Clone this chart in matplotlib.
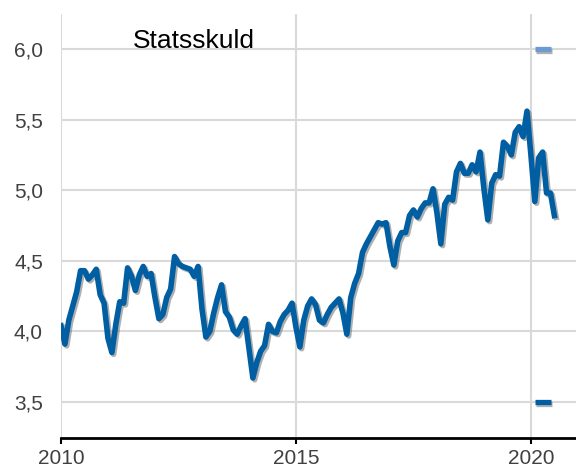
import numpy as np
import matplotlib
matplotlib.use("Agg")
import matplotlib.pyplot as plt
import matplotlib.patheffects as pe

# monthly values, Jan 2010 - Jul 2020
start_year = 2010
values = [
    4.04, 3.91, 4.08, 4.18, 4.28, 4.43, 4.43, 4.37, 4.40, 4.44, 4.26, 4.20,
    3.95, 3.85, 4.05, 4.21, 4.20, 4.45, 4.39, 4.29, 4.40, 4.46, 4.39, 4.41,
    4.24, 4.09, 4.12, 4.24, 4.30, 4.53, 4.48, 4.46, 4.45, 4.44, 4.39, 4.46,
    4.16, 3.96, 4.00, 4.13, 4.24, 4.33, 4.14, 4.10, 4.01, 3.98, 4.04, 4.09,
    3.88, 3.67, 3.78, 3.86, 3.90, 4.05, 4.00, 3.99, 4.07, 4.12, 4.15, 4.20,
    4.03, 3.89, 4.08, 4.18, 4.23, 4.19, 4.08, 4.06, 4.12, 4.17, 4.20, 4.23,
    4.13, 3.98, 4.24, 4.34, 4.41, 4.56, 4.62, 4.67, 4.72, 4.77, 4.76, 4.77,
    4.60, 4.47, 4.64, 4.70, 4.70, 4.82, 4.86, 4.81, 4.87, 4.91, 4.91, 5.01,
    4.84, 4.62, 4.90, 4.95, 4.93, 5.13, 5.19, 5.12, 5.12, 5.18, 5.13, 5.27,
    5.01, 4.79, 5.05, 5.11, 5.10, 5.34, 5.31, 5.25, 5.41, 5.45, 5.38, 5.56,
    5.25, 4.92, 5.23, 5.27, 4.98, 4.98, 4.82,
]
# small range markers at the right
marker_x = [2020.08, 2020.42]
marker_top = 6.0
marker_bottom = 3.5

years = start_year + np.arange(len(values)) / 12.0
yticks = [3.5, 4.0, 4.5, 5.0, 5.5, 6.0]
xticks = [2010, 2015, 2020]

plt.rcParams["font.family"] = ["Liberation Sans", "DejaVu Sans"]

fig = plt.figure(figsize=(5.76, 4.68), dpi=100)
ax = fig.add_axes([61 / 576, 1 - 438 / 468, 1 - 61 / 576, 424 / 468])

shadow = [pe.SimpleLineShadow(offset=(1.3, -1.3), shadow_color="#707070", alpha=0.55),
          pe.Normal()]
ax.plot(years, values, color="#005ea2", lw=4.0, solid_joinstyle="round",
        path_effects=shadow, zorder=3)
ax.plot(marker_x, [marker_top] * 2, color="#6b9bd2", lw=3.8,
        solid_capstyle="butt", path_effects=shadow, zorder=3)
ax.plot(marker_x, [marker_bottom] * 2, color="#005ea2", lw=3.8,
        solid_capstyle="butt", path_effects=shadow, zorder=3)

ax.set_xlim(2010, 2020.96)
ax.set_ylim(3.245, 6.248)
ax.set_xticks(xticks)
ax.set_yticks(yticks)
ax.set_yticklabels([f"{v:.1f}".replace(".", ",") for v in yticks])

ax.grid(True, color="#d9d9d9", lw=1.5)
ax.set_axisbelow(True)
for s in ["top", "right", "left"]:
    ax.spines[s].set_visible(False)
ax.spines["bottom"].set_color("black")
ax.spines["bottom"].set_linewidth(2)
ax.spines["bottom"].set_zorder(4)

ax.tick_params(axis="y", length=0, pad=13, labelsize=15, labelcolor="#404040")
ax.tick_params(axis="x", length=4, width=1.5, color="black", pad=4,
               labelsize=15, labelcolor="#404040")

ax.text(0.14, 0.92, "Statsskuld", transform=ax.transAxes, fontsize=19,
        color="black", va="baseline", ha="left")

fig.savefig("out.png", dpi=100)
